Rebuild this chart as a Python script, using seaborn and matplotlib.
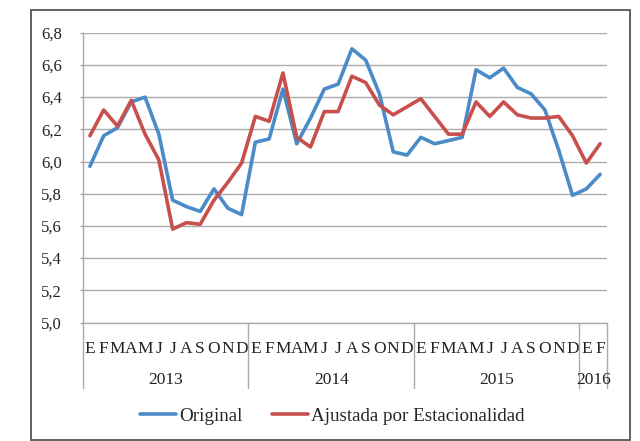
import numpy as np
import pandas as pd
import matplotlib
matplotlib.use("Agg")
import matplotlib.pyplot as plt
from matplotlib.ticker import FuncFormatter, MultipleLocator
from matplotlib.patches import Rectangle
import matplotlib.transforms as mtransforms
import seaborn as sns

months = ["E", "F", "M", "A", "M", "J", "J", "A", "S", "O", "N", "D"] * 3 + ["E", "F"]
years = ["2013", "2014", "2015", "2016"]
year_counts = [12, 12, 12, 2]

original = [5.97, 6.16, 6.21, 6.37, 6.40, 6.17, 5.76, 5.72, 5.69, 5.83, 5.71, 5.67,
            6.12, 6.14, 6.45, 6.11, 6.27, 6.45, 6.48, 6.70, 6.63, 6.42, 6.06, 6.04,
            6.15, 6.11, 6.13, 6.15, 6.57, 6.52, 6.58, 6.46, 6.42, 6.32, 6.07, 5.79,
            5.83, 5.92]
ajustada = [6.16, 6.32, 6.22, 6.38, 6.17, 6.01, 5.58, 5.62, 5.61, 5.76, 5.87, 5.99,
            6.28, 6.25, 6.55, 6.15, 6.09, 6.31, 6.31, 6.53, 6.49, 6.35, 6.29, 6.34,
            6.39, 6.28, 6.17, 6.17, 6.37, 6.28, 6.37, 6.29, 6.27, 6.27, 6.28, 6.16,
            5.99, 6.11]
series_names = ["Original", "Ajustada por Estacionalidad"]
colors = ["#4B8BC8", "#C8504C"]

n = len(months)
df = pd.DataFrame({
    "idx": list(range(n)) * 2,
    "valor": original + ajustada,
    "serie": [series_names[0]] * n + [series_names[1]] * n,
})

sns.set_style("white")
plt.rcParams["font.family"] = ["Liberation Serif", "DejaVu Serif"]

fig = plt.figure(figsize=(6.4, 4.41), dpi=100)
ax = fig.add_axes([83 / 640, 1 - 322.5 / 441, (607 - 83) / 640, (322.5 - 32.7) / 441])

sns.lineplot(data=df, x="idx", y="valor", hue="serie", palette=colors,
             linewidth=2.6, ax=ax, legend=True)

ax.set_xlim(-0.5, n - 0.5)
ax.set_ylim(5.0, 6.8)
ax.yaxis.set_major_locator(MultipleLocator(0.2))
ax.yaxis.set_major_formatter(FuncFormatter(lambda v, p: f"{v:.1f}".replace(".", ",")))
ax.grid(axis="y", color="#ABABAB", linewidth=1.0)
ax.set_axisbelow(True)
ax.set_xlabel("")
ax.set_ylabel("")
ax.set_xticks(range(n))
ax.set_xticklabels(months)
ax.tick_params(axis="x", length=0, pad=13, labelsize=12.5, colors="#222222")
ax.tick_params(axis="y", length=2, width=1.0, color="#ABABAB", labelsize=12,
               labelcolor="#222222", pad=13, left=True)
for s in ["top", "right"]:
    ax.spines[s].set_visible(False)
for s in ["left", "bottom"]:
    ax.spines[s].set_color("#ABABAB")
    ax.spines[s].set_linewidth(1.0)

# year separators and labels
trans = mtransforms.blended_transform_factory(ax.transData, ax.transAxes)
bounds = [-0.5]
for c in year_counts:
    bounds.append(bounds[-1] + c)
sep_bottom = -(388 - 322.5) / (322.5 - 32.7)
for b in bounds:
    ax.plot([b, b], [0, sep_bottom], transform=trans, color="#ABABAB",
             linewidth=1.0, clip_on=False)
year_y = -(380 - 322.5) / (322.5 - 32.7)
for i, y in enumerate(years):
    cx = (bounds[i] + bounds[i + 1]) / 2
    ax.text(cx, year_y, y, transform=trans, ha="center", va="center",
            fontsize=12.5, color="#222222")

# legend
handles, labels = ax.get_legend_handles_labels()
ax.legend(handles, labels, loc="center", bbox_to_anchor=(332 / 640, 1 - 416 / 441),
          bbox_transform=fig.transFigure, ncol=2, frameon=False, fontsize=13.7,
          handlelength=1.9, handletextpad=0.15, columnspacing=1.55)

# figure border
fig.patches.append(Rectangle((31 / 640, 1 - 440 / 441), (630 - 31) / 640, (440 - 10) / 441,
                             transform=fig.transFigure, fill=False,
                             edgecolor="#555555", linewidth=1.3))

fig.savefig("out.png", dpi=100)
